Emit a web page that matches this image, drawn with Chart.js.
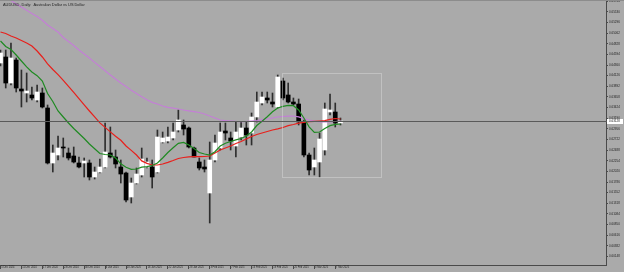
<!DOCTYPE html>
<html>
<head>
<meta charset="utf-8">
<script src="https://cdn.jsdelivr.net/npm/chart.js@4.4.1/dist/chart.umd.min.js"></script>
<style>
  html, body { margin: 0; padding: 0; background: #aaaaaa; overflow: hidden; }
  canvas { display: block; }
</style>
</head>
<body>
<canvas id="chart" width="624" height="272"></canvas>
<script>
const symbolTitle = "AUDUSD, Daily:  Australian Dollar vs US Dollar";

const dates = [
  "5 Dec 2024", "6 Dec 2024", "9 Dec 2024", "10 Dec 2024", "11 Dec 2024", "12 Dec 2024", "13 Dec 2024", "16 Dec 2024", "17 Dec 2024", "18 Dec 2024",
  "19 Dec 2024", "20 Dec 2024", "23 Dec 2024", "24 Dec 2024", "26 Dec 2024", "27 Dec 2024", "30 Dec 2024", "31 Dec 2024", "2 Jan 2025", "3 Jan 2025",
  "6 Jan 2025", "7 Jan 2025", "8 Jan 2025", "9 Jan 2025", "10 Jan 2025", "13 Jan 2025", "14 Jan 2025", "15 Jan 2025", "16 Jan 2025", "17 Jan 2025",
  "20 Jan 2025", "21 Jan 2025", "22 Jan 2025", "23 Jan 2025", "24 Jan 2025", "27 Jan 2025", "28 Jan 2025", "29 Jan 2025", "30 Jan 2025", "31 Jan 2025",
  "3 Feb 2025", "4 Feb 2025", "5 Feb 2025", "6 Feb 2025", "7 Feb 2025", "10 Feb 2025", "11 Feb 2025", "12 Feb 2025", "13 Feb 2025", "14 Feb 2025",
  "17 Feb 2025", "18 Feb 2025", "19 Feb 2025", "20 Feb 2025", "21 Feb 2025", "24 Feb 2025", "25 Feb 2025", "26 Feb 2025", "27 Feb 2025", "28 Feb 2025",
  "3 Mar 2025", "4 Mar 2025", "5 Mar 2025", "6 Mar 2025", "7 Mar 2025", "10 Mar 2025",
];

const opens = [
  0.64404, 0.64536, 0.63964, 0.64470, 0.63832, 0.63744, 0.63700, 0.63590, 0.63744, 0.63414,
  0.62204, 0.62380, 0.62556, 0.62424, 0.62358, 0.62204, 0.62204, 0.62204, 0.61896, 0.62006,
  0.62116, 0.62424, 0.62336, 0.62116, 0.61984, 0.61456, 0.61764, 0.61940, 0.62116, 0.62116,
  0.62006, 0.62666, 0.62688, 0.62754, 0.62930, 0.63040, 0.62974, 0.62534, 0.62226, 0.62116,
  0.61544, 0.62270, 0.62534, 0.62908, 0.62754, 0.62578, 0.62776, 0.62974, 0.62864, 0.63216,
  0.63524, 0.63634, 0.63546, 0.63436, 0.64008, 0.63700, 0.63546, 0.63502, 0.63106, 0.62380,
  0.62116, 0.62226, 0.62490, 0.63326, 0.63326, 0.63084,
];
const highs = [
  0.64690, 0.64690, 0.64844, 0.64514, 0.64250, 0.64184, 0.63876, 0.63920, 0.63854, 0.63480,
  0.62600, 0.62798, 0.62754, 0.62534, 0.62556, 0.62336, 0.62314, 0.62270, 0.62116, 0.62292,
  0.63084, 0.62996, 0.62490, 0.62270, 0.62006, 0.61874, 0.62094, 0.62534, 0.62314, 0.62270,
  0.62930, 0.62886, 0.62996, 0.63084, 0.63370, 0.63150, 0.62996, 0.62556, 0.62314, 0.62270,
  0.62666, 0.62820, 0.63084, 0.63084, 0.62886, 0.63106, 0.63106, 0.63106, 0.63304, 0.63766,
  0.63766, 0.63766, 0.63744, 0.64140, 0.64074, 0.63964, 0.63634, 0.63612, 0.63150, 0.62424,
  0.62534, 0.62864, 0.63524, 0.63722, 0.63524, 0.63194,
];
const lows = [
  0.64338, 0.63854, 0.63920, 0.63766, 0.63436, 0.63546, 0.63590, 0.63546, 0.63414, 0.62182,
  0.62006, 0.62270, 0.62336, 0.62270, 0.62204, 0.62094, 0.61896, 0.61830, 0.61852, 0.61984,
  0.62094, 0.62314, 0.62094, 0.61764, 0.61346, 0.61324, 0.61742, 0.61896, 0.62094, 0.61654,
  0.61984, 0.62644, 0.62644, 0.62710, 0.62886, 0.62820, 0.62534, 0.62336, 0.62050, 0.62006,
  0.60884, 0.62226, 0.62490, 0.62710, 0.62490, 0.62336, 0.62710, 0.62600, 0.62600, 0.63106,
  0.63480, 0.63524, 0.63436, 0.63414, 0.63590, 0.63524, 0.63480, 0.63040, 0.62336, 0.61940,
  0.61940, 0.61896, 0.62380, 0.63260, 0.62996, 0.63040,
];
const closes = [
  0.64624, 0.63964, 0.64514, 0.63854, 0.63788, 0.63788, 0.63634, 0.63766, 0.63436, 0.62204,
  0.62424, 0.62534, 0.62534, 0.62314, 0.62226, 0.62116, 0.62248, 0.61896, 0.62006, 0.62116,
  0.62446, 0.62336, 0.62182, 0.61962, 0.61390, 0.61764, 0.61962, 0.62292, 0.62226, 0.61896,
  0.62776, 0.62754, 0.62776, 0.62886, 0.63150, 0.62952, 0.62556, 0.62336, 0.62094, 0.62072,
  0.62270, 0.62644, 0.62886, 0.62864, 0.62688, 0.62886, 0.62974, 0.62820, 0.63216, 0.63546,
  0.63656, 0.63590, 0.63502, 0.64096, 0.63634, 0.63546, 0.63502, 0.63106, 0.62380, 0.62050,
  0.62270, 0.62732, 0.63392, 0.63370, 0.63084, 0.63128,
];

// moving averages (green fast, red medium, violet slow)
const maFast = [
  0.64888, 0.64767, 0.64701, 0.64580, 0.64448, 0.64320, 0.64206, 0.64125, 0.64008, 0.63731,
  0.63557, 0.63348, 0.63216, 0.63084, 0.62963, 0.62853, 0.62743, 0.62622, 0.62519, 0.62413,
  0.62391, 0.62380, 0.62314, 0.62186, 0.62109, 0.62063, 0.62072, 0.62112, 0.62123, 0.62149,
  0.62204, 0.62314, 0.62435, 0.62538, 0.62637, 0.62657, 0.62600, 0.62523, 0.62435, 0.62402,
  0.62380, 0.62453, 0.62578, 0.62640, 0.62677, 0.62714, 0.62743, 0.62798, 0.62886, 0.63029,
  0.63121, 0.63223, 0.63330, 0.63414, 0.63451, 0.63471, 0.63465, 0.63370, 0.63194, 0.63000,
  0.62877, 0.62886, 0.62963, 0.63025, 0.63055, 0.63062,
];
const maMid = [
  0.65086, 0.65053, 0.64998, 0.64954, 0.64899, 0.64844, 0.64778, 0.64668, 0.64536, 0.64386,
  0.64261, 0.64147, 0.64021, 0.63891, 0.63757, 0.63619, 0.63482, 0.63348, 0.63218, 0.63086,
  0.62987, 0.62888, 0.62791, 0.62703, 0.62578, 0.62481, 0.62380, 0.62250, 0.62195, 0.62160,
  0.62160, 0.62182, 0.62219, 0.62259, 0.62303, 0.62325, 0.62340, 0.62343, 0.62343, 0.62347,
  0.62358, 0.62424, 0.62490, 0.62534, 0.62578, 0.62633, 0.62677, 0.62732, 0.62787, 0.62831,
  0.62864, 0.62897, 0.62930, 0.62956, 0.62985, 0.63025, 0.63051, 0.63080, 0.63099, 0.63115,
  0.63121, 0.63128, 0.63137, 0.63165, 0.63183, 0.63172,
];
const maSlow = [
  0.65922, 0.65852, 0.65779, 0.65702, 0.65636, 0.65566, 0.65495, 0.65427, 0.65343, 0.65240,
  0.65163, 0.65086, 0.64965, 0.64877, 0.64789, 0.64690, 0.64602, 0.64514, 0.64417, 0.64325,
  0.64232, 0.64140, 0.64052, 0.63964, 0.63885, 0.63803, 0.63731, 0.63663, 0.63594, 0.63537,
  0.63502, 0.63458, 0.63427, 0.63410, 0.63392, 0.63370, 0.63352, 0.63335, 0.63315, 0.63282,
  0.63238, 0.63194, 0.63150, 0.63137, 0.63128, 0.63119, 0.63113, 0.63119, 0.63128, 0.63139,
  0.63157, 0.63172, 0.63194, 0.63216, 0.63227, 0.63234, 0.63238, 0.63220, 0.63181, 0.63150,
  0.63124, 0.63110, 0.63106, 0.63106, 0.63117, 0.63128,
];

const priceTicks = [
  0.65764, 0.65530, 0.65296, 0.65062, 0.64828, 0.64594, 0.64360, 0.64126, 0.63892, 0.63658,
  0.63424, 0.63190, 0.62956, 0.62722, 0.62488, 0.62254, 0.62020, 0.61786, 0.61552, 0.61318,
  0.61084, 0.60850, 0.60616, 0.60382, 0.60148,
];
const dateTicks = [0, 4, 8, 12, 16, 20, 24, 28, 32, 36, 40, 44, 48, 52, 56, 60, 64];

// rectangle object drawn on the chart (bar positions, prices)
const boxBars = [53.8, 72.8];
const boxPrices = [0.64184, 0.61896];

const bars = dates.map((d, i) => i);
const bodyColors = opens.map((o, i) => (closes[i] >= o ? "#ffffff" : "#000000"));
const lastPrice = closes[closes.length - 1];

const overlay = {
  id: "overlay",
  afterDatasetsDraw(chart) {
    const { ctx, chartArea, scales } = chart;
    const { x, y } = scales;
    ctx.save();
    // dotted rectangle
    const x1 = Math.round(x.getPixelForValue(boxBars[0])) + 0.5;
    const x2 = Math.round(x.getPixelForValue(boxBars[1])) + 0.5;
    const y1 = Math.round(y.getPixelForValue(boxPrices[0])) + 0.5;
    const y2 = Math.round(y.getPixelForValue(boxPrices[1])) + 0.5;
    ctx.strokeStyle = "#d8d8d8";
    ctx.lineWidth = 1;
    ctx.setLineDash([1, 1]);
    ctx.strokeRect(x1, y1, x2 - x1, y2 - y1);

    // bid line
    const py = Math.round(y.getPixelForValue(lastPrice)) + 0.5;
    ctx.setLineDash([]);
    ctx.strokeStyle = "#5a5a5a";
    ctx.beginPath();
    ctx.moveTo(chartArea.left, py);
    ctx.lineTo(chartArea.right + 2, py);
    ctx.stroke();
    ctx.restore();
  },
  afterDraw(chart) {
    const { ctx, chartArea, scales } = chart;
    ctx.save();
    // top frame
    ctx.strokeStyle = "#8c8c8c";
    ctx.beginPath();
    ctx.moveTo(0, 0.5);
    ctx.lineTo(chart.width, 0.5);
    ctx.stroke();

    // current price tag
    const py = Math.round(scales.y.getPixelForValue(lastPrice));
    ctx.fillStyle = "#ffffff";
    ctx.fillRect(chartArea.right + 1, py - 2, 16, 5);
    ctx.fillStyle = "#111";
    ctx.font = "3px 'Liberation Sans'";
    ctx.textBaseline = "middle";
    ctx.fillText(lastPrice.toFixed(5), chartArea.right + 3, py + 0.5);

    // title
    ctx.fillStyle = "#1e1e1e";
    ctx.textBaseline = "top";
    ctx.font = "3.9px 'Liberation Sans'";
    ctx.fillText(symbolTitle, 3, 3);
    ctx.restore();
  },
};

new Chart(document.getElementById("chart"), {
  type: "bar",
  data: {
    datasets: [
      {
        type: "line",
        data: bars.map((i) => ({ x: i, y: maFast[i] })),
        borderColor: "#1f8a22",
        borderWidth: 1.2,
        pointRadius: 0,
        order: 0,
      },
      {
        type: "line",
        data: bars.map((i) => ({ x: i, y: maMid[i] })),
        borderColor: "#e8201c",
        borderWidth: 1.2,
        pointRadius: 0,
        order: 0,
      },
      {
        type: "line",
        data: bars.map((i) => ({ x: i, y: maSlow[i] })),
        borderColor: "#c47fd6",
        borderWidth: 1.2,
        pointRadius: 0,
        order: 0,
      },
      {
        // candle bodies
        data: bars.map((i) => ({ x: i, y: [opens[i], closes[i]] })),
        backgroundColor: bodyColors,
        borderWidth: 0,
        barThickness: 4,
        grouped: false,
        order: 1,
      },
      {
        // wicks
        data: bars.map((i) => ({ x: i, y: [lows[i], highs[i]] })),
        backgroundColor: "#2e2e2e",
        borderWidth: 0,
        barThickness: 1,
        grouped: false,
        order: 2,
      },
    ],
  },
  options: {
    responsive: false,
    animation: false,
    events: [],
    layout: { padding: { top: 1, left: 0, right: 0, bottom: 0 } },
    plugins: { legend: { display: false }, tooltip: { enabled: false } },
    scales: {
      x: {
        type: "linear",
        min: -0.0956,
        max: 115.76,
        offset: false,
        afterBuildTicks: (scale) => {
          scale.ticks = dateTicks.map((v) => ({ value: v }));
        },
        afterFit: (scale) => {
          scale.height = 7;
          scale.paddingLeft = 0;
          scale.paddingRight = 0;
        },
        grid: { drawOnChartArea: false, offset: false, tickLength: 4, color: "#4a4a4a" },
        border: { color: "#4a4a4a" },
        ticks: {
          align: "start",
          padding: -3,
          autoSkip: false,
          maxRotation: 0,
          color: "#1e1e1e",
          font: { size: 2.6, family: "Liberation Sans" },
          callback: (v) => " " + dates[v],
        },
      },
      y: {
        position: "right",
        min: 0.5996,
        max: 0.65768,
        afterBuildTicks: (scale) => {
          scale.ticks = priceTicks.map((v) => ({ value: v }));
        },
        afterFit: (scale) => {
          scale.width = 18;
          scale.paddingTop = 0;
          scale.paddingBottom = 0;
        },
        grid: { drawOnChartArea: false, tickLength: 2, color: "#4a4a4a" },
        border: { color: "#4a4a4a" },
        ticks: {
          padding: 1,
          color: "#1e1e1e",
          font: { size: 3, family: "Liberation Sans" },
          callback: (v) => v.toFixed(5),
        },
      },
    },
  },
  plugins: [overlay],
});
</script>
</body>
</html>
